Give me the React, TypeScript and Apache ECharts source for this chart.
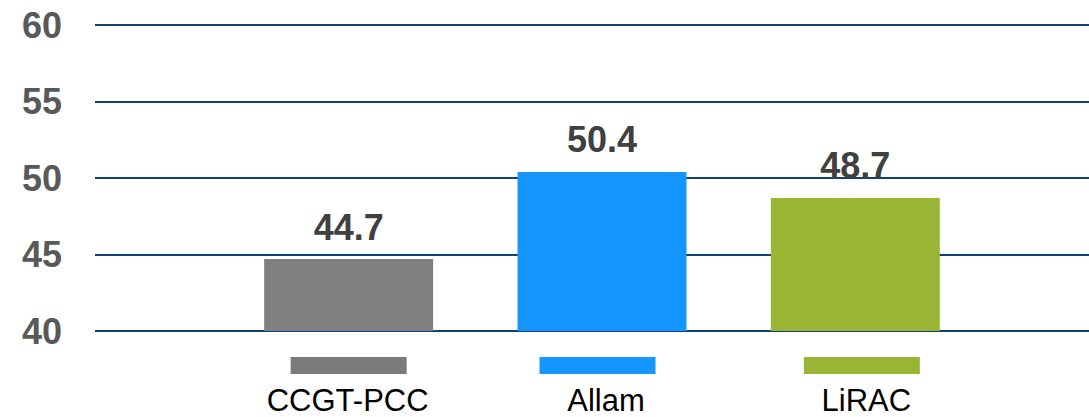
import React, { useEffect, useRef } from "react";
import * as echarts from "echarts";

const categories = ["CCGT-PCC", "Allam", "LiRAC"];
const values = [44.7, 50.4, 48.7];
const barColors = ["#7f7f7f", "#1596fd", "#9ab534"];
const swatchColors = ["#7b7b7b", "#1596fd", "#9ab534"];
const yMin = 40;
const yMax = 60;
const yStep = 5;

// label styling offsets (px) to mimic the reference's hand-placed text boxes
const swatchShift = [0, -4.5, 6.5];
const textShift = [-1, 4, 11];
const textGap = [11, 11, 11];
const textLine = [30, 30, 30];

export default function App() {
  const ref = useRef<HTMLDivElement>(null);
  useEffect(() => {
    if (!ref.current) return;
    const chart = echarts.init(ref.current, undefined, { renderer: "svg" });
    const font = "'Liberation Sans', Arial, sans-serif";
    const rich: any = {};
    swatchColors.forEach((c, i) => {
      rich["s" + i] = { backgroundColor: c, width: 116, height: 17, lineHeight: 17 };
      rich["as" + i] = { width: Math.max(0, 2 * swatchShift[i]), height: 17, lineHeight: 17 };
      rich["bs" + i] = { width: Math.max(0, -2 * swatchShift[i]), height: 17, lineHeight: 17 };
      rich["g" + i] = { height: textGap[i], lineHeight: textGap[i] };
      rich["t" + i] = {
        fontSize: 31,
        fontFamily: font,
        color: "#000000",
        lineHeight: textLine[i],
      };
      rich["at" + i] = { width: Math.max(0, 2 * textShift[i]), lineHeight: 10 };
      rich["bt" + i] = { width: Math.max(0, -2 * textShift[i]), lineHeight: 10 };
    });
    chart.setOption({
      animation: false,
      grid: [
        { left: 95, right: 0, top: 25, bottom: 86, containLabel: false, outerBoundsMode: "none" },
        { left: 222, right: 107, top: 25, bottom: 86, containLabel: false, outerBoundsMode: "none" },
      ],
      xAxis: [
        {
          gridIndex: 0,
          type: "category",
          data: categories,
          show: false,
        },
        {
          gridIndex: 1,
          type: "category",
          data: categories,
          axisLine: { show: false },
          axisTick: { show: false },
          axisLabel: {
            margin: 26,
            interval: 0,
            formatter: (v: string, i: number) =>
              `{as${i}|}{s${i}|}{bs${i}|}\n{g${i}|}\n{at${i}|}{t${i}|${v}}{bt${i}|}`,
            rich,
          },
        },
      ],
      yAxis: [
        {
          gridIndex: 0,
          type: "value",
          min: yMin,
          max: yMax,
          interval: yStep,
          axisLine: { show: false },
          axisTick: { show: false },
          axisLabel: {
            fontSize: 36,
            fontWeight: "bold",
            color: "#595959",
            fontFamily: font,
            margin: 33,
          },
          splitLine: { lineStyle: { color: "#0f4273", width: 2 } },
        },
        {
          gridIndex: 1,
          type: "value",
          min: yMin,
          max: yMax,
          interval: yStep,
          show: false,
          splitLine: { show: false },
        },
      ],
      series: [
        {
          type: "bar",
          xAxisIndex: 1,
          yAxisIndex: 1,
          data: values.map((v, i) => ({ value: v, itemStyle: { color: barColors[i] } })),
          barWidth: "66.7%",
          label: {
            show: true,
            position: "top",
            distance: 14,
            fontSize: 36,
            fontWeight: "bold",
            color: "#404040",
            fontFamily: font,
            formatter: (p: any) => p.value.toFixed(1),
          },
        },
      ],
    });
    return () => chart.dispose();
  }, []);
  return (
    <div
      ref={ref}
      style={{ position: "fixed", left: 0, top: 0, width: 1089, height: 417, background: "#fff" }}
    />
  );
}
